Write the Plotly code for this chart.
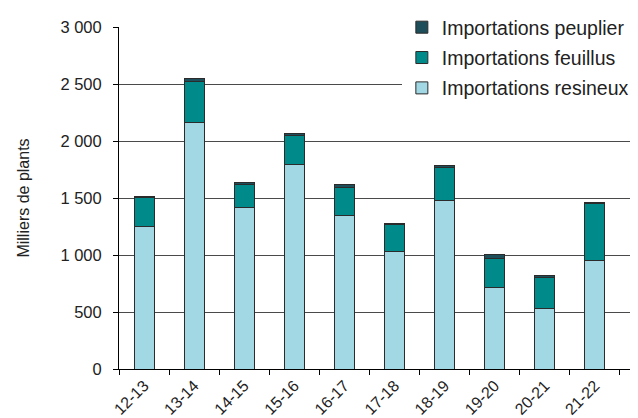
import plotly.graph_objects as go

categories = ["12-13", "13-14", "14-15", "15-16", "16-17", "17-18", "18-19", "19-20", "20-21", "21-22"]
resineux = [1250, 2160, 1415, 1790, 1350, 1030, 1476, 718, 535, 948]
feuillus = [255, 365, 205, 262, 243, 237, 294, 255, 267, 505]
peuplier = [10, 25, 12, 14, 23, 12, 11, 30, 18, 9]
y_ticks = [0, 500, 1000, 1500, 2000, 2500, 3000]
y_ticktext = ["0", "500", "1 000", "1 500", "2 000", "2 500", "3 000"]

line = dict(color="#2b2b2b", width=1)
fig = go.Figure()
fig.add_trace(go.Bar(x=categories, y=resineux, name="Importations resineux", legendgroup="r",
                     legendrank=3, marker=dict(color="#A2D8E3", line=line), width=0.4))
fig.add_trace(go.Bar(x=categories, y=feuillus, name="Importations feuillus", legendgroup="f",
                     legendrank=2, marker=dict(color="#008B8A", line=line), width=0.4))
fig.add_trace(go.Bar(x=categories, y=peuplier, name="Importations peuplier", legendgroup="p",
                     legendrank=1, marker=dict(color="#1E4E5A", line=line), width=0.4))

fig.update_layout(
    barmode="stack",
    width=630, height=410,
    margin=dict(l=111, r=0, t=17, b=49),
    plot_bgcolor="white", paper_bgcolor="white",
    font=dict(family="Liberation Sans, Arial, sans-serif", size=16, color="#222222"),
    legend=dict(x=0.545, y=1.057, xanchor="left", yanchor="top",
                traceorder="grouped", bgcolor="white",
                font=dict(size=19.5, color="#222222"),
                tracegroupgap=2),
    xaxis=dict(range=[-0.5, 9.86], showline=True, linecolor="black", linewidth=1,
               ticks="outside", tickson="boundaries", ticklen=5, tickcolor="black",
               tickangle=-45, tickfont=dict(size=16), showgrid=False,
               automargin=False),
    yaxis=dict(range=[0, 3000], tickvals=y_ticks, ticktext=y_ticktext,
               showline=True, linecolor="black", linewidth=1,
               ticks="outside", ticklen=5, tickcolor="black",
               ticklabelstandoff=8,
               showgrid=True, gridcolor="#4a4a4a", gridwidth=1,
               zeroline=False, tickfont=dict(size=16.5), automargin=False,
               title=dict(text="Milliers de plants", font=dict(size=16), standoff=26)),
)

fig.write_html("out.html")
